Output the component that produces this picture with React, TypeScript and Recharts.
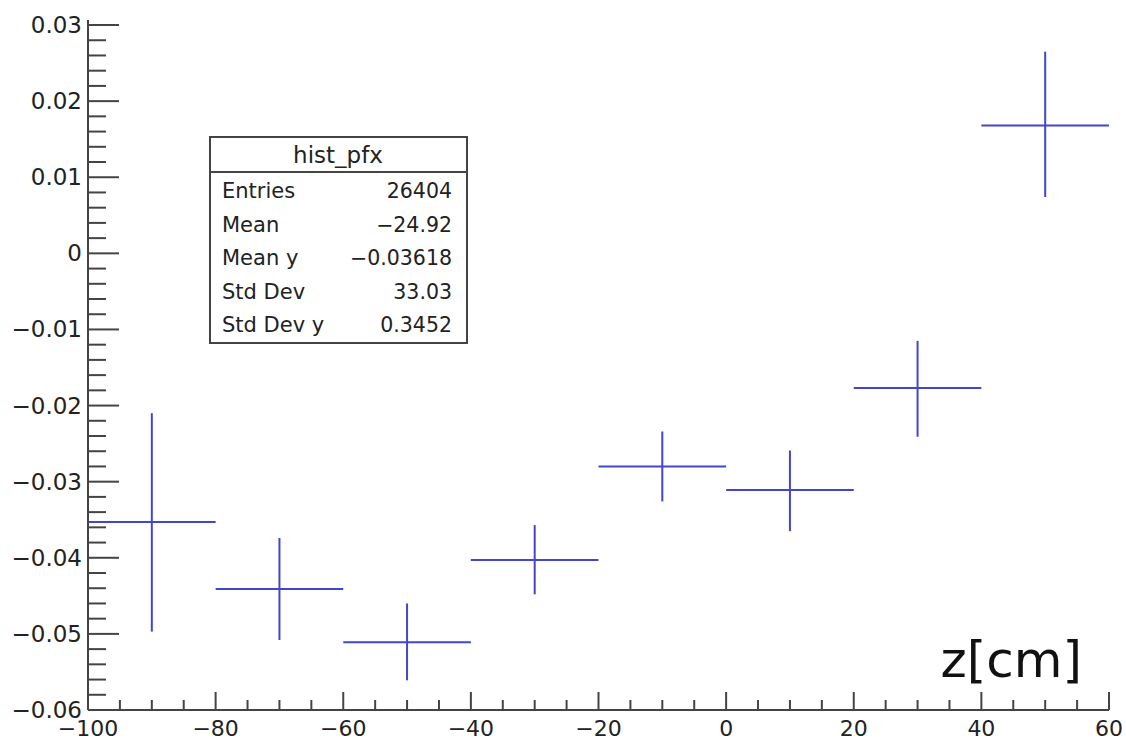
import React from "react";
import { ScatterChart, Scatter, XAxis, YAxis, ErrorBar } from "recharts";

// profile bins
const binCenters = [-90, -70, -50, -30, -10, 10, 30, 50];
const binHalfWidth = [10, 10, 10, 10, 10, 10, 10, 10];
const binMeans = [-0.0353, -0.0441, -0.0511, -0.0403, -0.028, -0.0311, -0.0177, 0.0168];
const binTops = [-0.021, -0.0374, -0.046, -0.0357, -0.0234, -0.0259, -0.0115, 0.0265];
const binBottoms = [-0.0497, -0.0508, -0.0561, -0.0448, -0.0326, -0.0365, -0.0241, 0.0074];

const xMajorTicks = [-100, -80, -60, -40, -20, 0, 20, 40, 60];
const xTickLabels = ["\u2212100", "\u221280", "\u221260", "\u221240", "\u221220", "0", "20", "40", "60"];
const yMajorTicks = [-0.06, -0.05, -0.04, -0.03, -0.02, -0.01, 0, 0.01, 0.02, 0.03];
const yTickLabels = ["\u22120.06", "\u22120.05", "\u22120.04", "\u22120.03", "\u22120.02", "\u22120.01", "0", "0.01", "0.02", "0.03"];

const statsTitle = "hist_pfx";
const statsNames = ["Entries", "Mean", "Mean y", "Std Dev", "Std Dev y"];
const statsValues = ["26404", "\u221224.92", "\u22120.03618", "33.03", "0.3452"];

const W = 1126;
const H = 742;
const BLUE = "#4444cc";
const AXIS = "#444";
const FONT = "'DejaVu Sans', 'Liberation Sans', Arial, sans-serif";

// 4 minor divisions on x (5 cm), 5 on y (0.002)
const xAllTicks = Array.from({ length: 33 }, (_, i) => -100 + i * 5);
const yAllTicks = Array.from({ length: 46 }, (_, i) => Math.round((-0.06 + i * 0.002) * 1e6) / 1e6);

const points = binCenters.map((x, i) => ({
  x,
  y: binMeans[i],
  xErr: binHalfWidth[i],
  yErr: [binMeans[i] - binBottoms[i], binTops[i] - binMeans[i]],
}));

const XTick = (props: any) => {
  const { x, y, payload } = props;
  const idx = xMajorTicks.indexOf(payload.value);
  const major = idx >= 0;
  return (
    <g>
      <line x1={x} x2={x} y1={y} y2={y - (major ? 18 : 10)} stroke={AXIS} strokeWidth={2} />
      {major && (
        <text x={x} y={y + 26} textAnchor="middle" fontSize={22} fill="#222" fontFamily={FONT}>
          {xTickLabels[idx]}
        </text>
      )}
    </g>
  );
};

const YTick = (props: any) => {
  const { x, y, payload } = props;
  const idx = yMajorTicks.findIndex((t) => Math.abs(t - payload.value) < 1e-7);
  const major = idx >= 0;
  return (
    <g>
      <line x1={x} x2={x + (major ? 31 : 18)} y1={y} y2={y} stroke={AXIS} strokeWidth={2} />
      {major && (
        <text x={x - 6} y={y + 8} textAnchor="end" fontSize={23} fill="#222" fontFamily={FONT}>
          {yTickLabels[idx]}
        </text>
      )}
    </g>
  );
};

const noShape = () => <g />;

export default function App() {
  return (
    <div style={{ position: "absolute", left: 0, top: 0, width: W, height: H, background: "#fff" }}>
      <ScatterChart width={W} height={H} margin={{ top: 20, right: 17, bottom: 0, left: 0 }}>
        <XAxis
          dataKey="x"
          type="number"
          domain={[-100, 60]}
          ticks={xAllTicks}
          interval={0}
          height={32}
          tickSize={0}
          tickMargin={0}
          tick={<XTick />}
          axisLine={{ stroke: AXIS, strokeWidth: 2 }}
          allowDataOverflow
        />
        <XAxis
          xAxisId="top"
          orientation="top"
          type="number"
          domain={[-100, 60]}
          height={0}
          tick={false}
          tickLine={false}
          axisLine={{ stroke: AXIS, strokeWidth: 2 }}
        />
        <YAxis
          dataKey="y"
          type="number"
          domain={[-0.06, 0.03066]}
          ticks={yAllTicks}
          interval={0}
          width={88}
          tickSize={0}
          tickMargin={0}
          tick={<YTick />}
          axisLine={{ stroke: AXIS, strokeWidth: 2 }}
          allowDataOverflow
        />
        <YAxis
          yAxisId="right"
          orientation="right"
          type="number"
          domain={[-0.06, 0.03066]}
          width={0}
          tick={false}
          tickLine={false}
          axisLine={{ stroke: AXIS, strokeWidth: 2 }}
        />
        <Scatter data={points} dataKey="y" shape={noShape} isAnimationActive={false}>
          <ErrorBar dataKey="xErr" direction="x" width={0} stroke={BLUE} strokeWidth={2} isAnimationActive={false} />
          <ErrorBar dataKey="yErr" direction="y" width={0} stroke={BLUE} strokeWidth={2} isAnimationActive={false} />
        </Scatter>
      </ScatterChart>

      <svg
        width={W}
        height={H}
        style={{ position: "absolute", left: 0, top: 0, pointerEvents: "none" }}
        fontFamily={FONT}
      >
        <rect x={210} y={137} width={257} height={206} fill="#fff" stroke={AXIS} strokeWidth={2} />
        <line x1={210} x2={467} y1={172} y2={172} stroke={AXIS} strokeWidth={2} />
        <text x={338} y={163} textAnchor="middle" fontSize={23} fill="#222">
          {statsTitle}
        </text>
        {statsNames.map((name, i) => (
          <g key={name}>
            <text x={222} y={198 + i * 33.5} fontSize={21} fill="#222">
              {name}
            </text>
            <text x={452} y={198 + i * 33.5} textAnchor="end" fontSize={20.5} fill="#222">
              {statsValues[i]}
            </text>
          </g>
        ))}
        <text x={1082} y={677} textAnchor="end" fontSize={50} fill="#111">
          z[cm]
        </text>
      </svg>
    </div>
  );
}
